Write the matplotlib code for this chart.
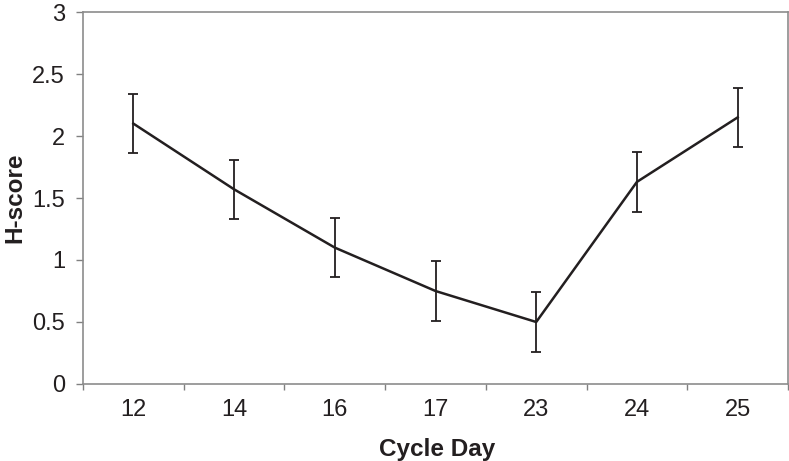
import matplotlib.pyplot as plt
import numpy as np

plt.rcParams['font.family'] = ['Liberation Sans', 'DejaVu Sans']

days = ['12', '14', '16', '17', '23', '24', '25']
hscore = [2.1, 1.57, 1.1, 0.75, 0.5, 1.63, 2.15]
err = [0.24, 0.24, 0.24, 0.24, 0.24, 0.24, 0.24]

fig = plt.figure(figsize=(7.89, 4.61), dpi=100)
ax = fig.add_axes([83 / 789, 1 - 384 / 461, 705 / 789, 372 / 461])

x = np.arange(len(days))
ax.errorbar(x, hscore, yerr=err, color='#231f20', lw=1.8, elinewidth=1.3,
            capsize=3.4, capthick=1.3)

ax.set_xlim(-0.5, len(days) - 0.5)
ax.set_ylim(0, 3)
ax.set_yticks(np.arange(0, 3.01, 0.5))
ax.set_yticklabels(['0', '0.5', '1', '1.5', '2', '2.5', '3'])
ax.set_xticks(x)
ax.set_xticklabels(days)
ax.set_xticks(np.arange(-0.5, len(days)), minor=True)
ax.tick_params(axis='x', which='major', length=0, pad=11, labelsize=17, colors='#231f20')
ax.tick_params(axis='x', which='minor', length=4, width=1, color='#808080', direction='out')
ax.tick_params(axis='y', length=5, width=1, color='#808080', pad=8, labelsize=17, labelcolor='#231f20')

for s in ax.spines.values():
    s.set_color('#8c8c8c')
    s.set_linewidth(1.2)

ax.set_xlabel('Cycle Day', fontsize=17.5, fontweight='bold', color='#231f20')
ax.set_ylabel('H-score', fontsize=17.5, fontweight='bold', color='#231f20')
ax.xaxis.set_label_coords(0.502, -0.145)
ax.yaxis.set_label_coords(-0.081, 0.5)

fig.savefig('out.png', dpi=100)
